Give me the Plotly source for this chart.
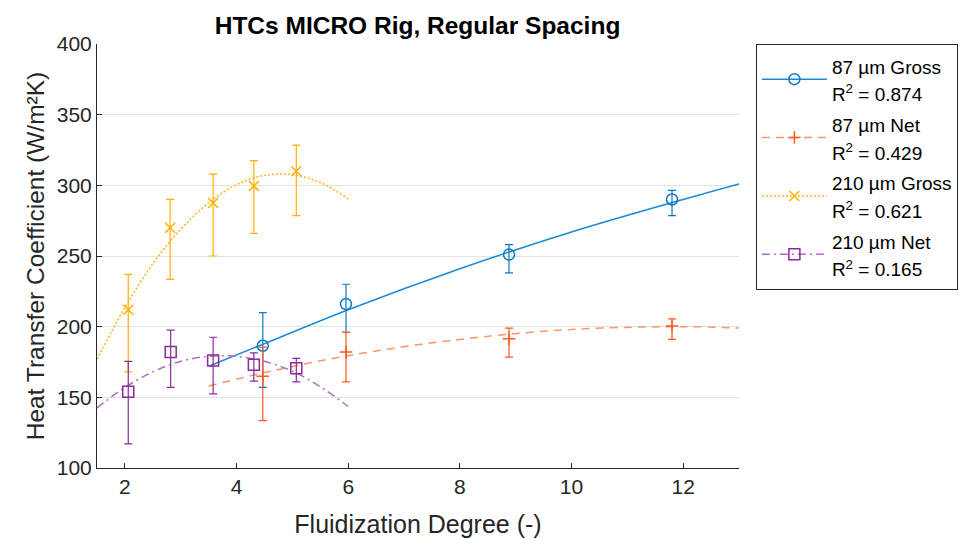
import plotly.graph_objects as go

# ---- data ----
g87_x = [4.47, 5.96, 8.88, 11.80]
g87_y = [186.5, 216.0, 251.0, 290.0]
g87_up = [23.5, 14.0, 7.0, 6.5]
g87_dn = [29.5, 20.0, 13.0, 11.5]

n87_x = [4.47, 5.96, 8.88, 11.80]
n87_y = [165.0, 182.0, 191.5, 200.5]
n87_up = [20.5, 14.0, 7.5, 5.0]
n87_dn = [31.5, 21.0, 13.0, 9.5]

g210_x = [2.06, 2.81, 3.58, 4.31, 5.07]
g210_y = [212.0, 270.0, 287.5, 299.5, 310.0]
g210_up = [25.0, 20.0, 20.5, 18.0, 18.5]
g210_dn = [44.0, 36.5, 37.5, 33.5, 31.5]

n210_x = [2.06, 2.82, 3.58, 4.31, 5.07]
n210_y = [154.0, 182.0, 176.0, 173.0, 170.5]
n210_up = [21.5, 15.5, 16.5, 8.5, 7.0]
n210_dn = [37.0, 25.0, 23.5, 11.5, 9.5]

# fit curves
fit87g_x = [3.5, 4.5, 6.0, 8.0, 10.0, 12.0, 13.0]
fit87g_y = [172.0, 188.0, 212.0, 241.0, 267.0, 290.0, 301.0]
fit87n_x = [3.5, 4.5, 6.0, 8.0, 10.0, 12.0, 13.0]
fit87n_y = [158.0, 167.5, 179.5, 191.0, 198.0, 200.0, 199.0]
fit210g_x = [1.5, 2.0, 2.5, 3.0, 3.5, 4.0, 4.5, 5.0, 5.5, 6.0]
fit210g_y = [177.0, 213.5, 244.5, 269.0, 287.5, 300.5, 307.0, 307.5, 302.0, 290.5]
fit210n_x = [1.5, 2.0, 2.5, 3.0, 3.5, 4.0, 4.5, 5.0, 5.5, 6.0]
fit210n_y = [142.5, 157.0, 168.0, 175.5, 179.0, 179.0, 175.5, 168.5, 157.5, 143.5]

series_names = ["87 µm Gross", "87 µm Net", "210 µm Gross", "210 µm Net"]
r2_labels = ["0.874", "0.429", "0.621", "0.165"]

x_ticks = [2, 4, 6, 8, 10, 12]
y_ticks = [100, 150, 200, 250, 300, 350, 400]

series = [
    dict(x=g87_x, y=g87_y, up=g87_up, dn=g87_dn, fx=fit87g_x, fy=fit87g_y,
         col="#0A78C4", lcol="#1A8AD4", dash="solid", sym="circle-open", size=11),
    dict(x=n87_x, y=n87_y, up=n87_up, dn=n87_dn, fx=fit87n_x, fy=fit87n_y,
         col="#FF5A1E", lcol="#FF9468", dash="8px,6px", sym="cross-thin-open", size=9),
    dict(x=g210_x, y=g210_y, up=g210_up, dn=g210_dn, fx=fit210g_x, fy=fit210g_y,
         col="#FFB000", lcol="#FFB21C", dash="2px,2px", sym="x-thin-open", size=10),
    dict(x=n210_x, y=n210_y, up=n210_up, dn=n210_dn, fx=fit210n_x, fy=fit210n_y,
         col="#8A2B9C", lcol="#B26BC2", dash="8px,4px,2px,4px", sym="square-open", size=11),
]

fig = go.Figure()
for i, s in enumerate(series):
    fig.add_trace(go.Scatter(
        x=s["fx"], y=s["fy"], mode="lines", line=dict(color=s["lcol"], width=1.5, dash=s["dash"], shape="spline"),
        showlegend=False, hoverinfo="skip"))
    fig.add_trace(go.Scatter(
        x=s["x"], y=s["y"], mode="markers",
        marker=dict(symbol=s["sym"], size=s["size"], color=s["col"], line=dict(width=1.5, color=s["col"])),
        error_y=dict(type="data", symmetric=False, array=s["up"], arrayminus=s["dn"],
                     color=s["col"], thickness=1.2, width=4),
        showlegend=False))
    label = ('<span style="font-size:19px">' + series_names[i] + '</span><br>'
             '<span style="font-size:19px">R<sup>2</sup> = ' + r2_labels[i] + '</span>')
    fig.add_trace(go.Scatter(
        x=[None], y=[None], mode="lines+markers", name=label,
        line=dict(color=s["lcol"], width=1.5, dash=s["dash"]),
        marker=dict(symbol=s["sym"], size=s["size"], color=s["col"], line=dict(width=1.5, color=s["col"])),
        legendgroup=str(i), showlegend=True))

fig.update_layout(
    width=960, height=531,
    margin=dict(l=89, r=229, t=36, b=71, autoexpand=False),
    paper_bgcolor="white", plot_bgcolor="white",
    font=dict(family="Liberation Sans, Arial, sans-serif", color="#262626", size=21),
    title=dict(text="<b>HTCs MICRO Rig, Regular Spacing</b>", x=0.4266, xanchor="center",
               y=0.968, yanchor="middle", font=dict(size=24.5, color="#000000")),
    legend=dict(x=1.0263, xanchor="left", y=1.0, yanchor="top",
                bordercolor="#262626", borderwidth=1, bgcolor="white",
                font=dict(size=21.3, color="#000000"), tracegroupgap=0, valign="middle",
                itemwidth=65),
)
fig.update_xaxes(range=[1.5, 13], tickvals=x_ticks, ticktext=[str(v) for v in x_ticks],
                 showgrid=False, zeroline=False, showline=True, linecolor="#262626", linewidth=1,
                 ticks="inside", ticklen=5, tickcolor="#262626",
                 title=dict(text="Fluidization Degree (-)", font=dict(size=25), standoff=18))
fig.update_yaxes(range=[100, 400], tickvals=y_ticks, ticktext=[str(v) for v in y_ticks],
                 showgrid=True, gridcolor="#E3E3E3", gridwidth=1, zeroline=False,
                 showline=True, linecolor="#262626", linewidth=1,
                 ticks="inside", ticklen=5, tickcolor="#262626",
                 title=dict(text="Heat Transfer Coefficient (W/m²K)", font=dict(size=24.5), standoff=5))

fig.write_html("out.html")
